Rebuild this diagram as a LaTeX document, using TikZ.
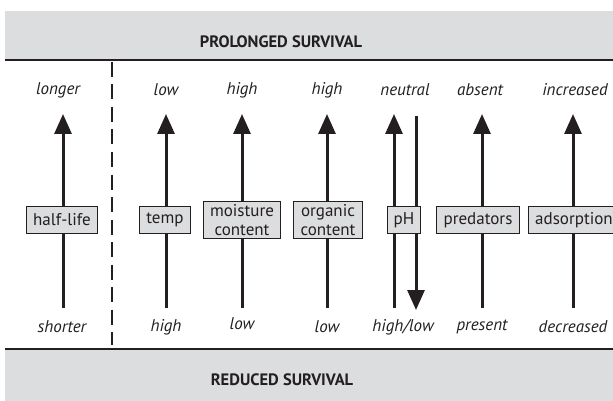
\documentclass[tikz,border=0pt]{standalone}
\usepackage{fontspec}
\setmainfont{PT Sans}
\usetikzlibrary{arrows.meta}
\definecolor{band}{HTML}{DCDDDE}
\definecolor{ink}{HTML}{231F20}
\begin{document}
\begin{tikzpicture}[x=1pt,y=-1pt,
  factor/.style={draw=ink,fill=band,line width=1pt,text=ink,align=center,
    font=\fontsize{17}{18.5}\selectfont,minimum height=27pt,inner xsep=7pt,inner ysep=3pt},
  lbl/.style={text=ink,font=\fontsize{17}{17}\selectfont\itshape},
  head/.style={text=ink,font=\fontsize{16.5}{16.5}\selectfont\bfseries},
  arr/.style={draw=ink,line width=3pt,-{Triangle[length=20pt,width=17pt]}}]
  \clip (0,0) rectangle (613,401);
  % bands
  \fill[band] (5,11) rectangle (613,60);
  \fill[band] (5,349) rectangle (613,401);
  \draw[ink,line width=2.5pt] (5,60) -- (613,60);
  \draw[ink,line width=2.5pt] (5,349) -- (613,349);
  \node[head] (prolonged) at (281,42) {PROLONGED SURVIVAL};
  \node[head] (reduced) at (282,380) {REDUCED SURVIVAL};
  % divider
  \draw[ink,line width=2.7pt,dash pattern=on 15pt off 7.5pt] (112,62) -- (112,345);
  % arrow ends
  \coordinate (hl-lo) at (63,308);  \coordinate (hl-hi) at (63,114);
  \coordinate (tp-lo) at (166,308); \coordinate (tp-hi) at (166,114);
  \coordinate (mc-lo) at (242,308); \coordinate (mc-hi) at (242,114);
  \coordinate (oc-lo) at (327,308); \coordinate (oc-hi) at (327,114);
  \coordinate (ph-lo) at (394,308); \coordinate (ph-hi) at (394,114);
  \coordinate (pd-hi) at (416,116); \coordinate (pd-lo) at (416,310);
  \coordinate (pr-lo) at (482,308); \coordinate (pr-hi) at (482,114);
  \coordinate (ad-lo) at (573,308); \coordinate (ad-hi) at (573,114);
  \draw[arr] (hl-lo) -- (hl-hi);
  \draw[arr] (tp-lo) -- (tp-hi);
  \draw[arr] (mc-lo) -- (mc-hi);
  \draw[arr] (oc-lo) -- (oc-hi);
  \draw[arr] (ph-lo) -- (ph-hi);
  \draw[arr] (pd-hi) -- (pd-lo);
  \draw[arr] (pr-lo) -- (pr-hi);
  \draw[arr] (ad-lo) -- (ad-hi);
  % factors
  \node[factor] (halflife) at (62,220) {half-life};
  \node[factor] (temp) at (165,220) {temp};
  \node[factor] (moisture) at (242,220) {moisture\\content};
  \node[factor] (organic) at (328,220) {organic\\content};
  \node[factor,inner xsep=6pt] (ph) at (404,220) {pH};
  \node[factor] (predators) at (478,220) {predators};
  \node[factor] (adsorption) at (574,220) {adsorption};
  % top labels
  \node[lbl] at (58,90) {longer};
  \node[lbl] at (166,90) {low};
  \node[lbl] at (242,90) {high};
  \node[lbl] at (327,90) {high};
  \node[lbl] at (405,90) {neutral};
  \node[lbl] at (480,90) {absent};
  \node[lbl] at (575,90) {increased};
  % bottom labels
  \node[lbl] at (62,327) {shorter};
  \node[lbl] at (166,327) {high};
  \node[lbl] at (242,324) {low};
  \node[lbl] at (327,327) {low};
  \node[lbl] at (403,327) {high/low};
  \node[lbl] at (482,327) {present};
  \node[lbl] at (573,327) {decreased};
\end{tikzpicture}
\end{document}
